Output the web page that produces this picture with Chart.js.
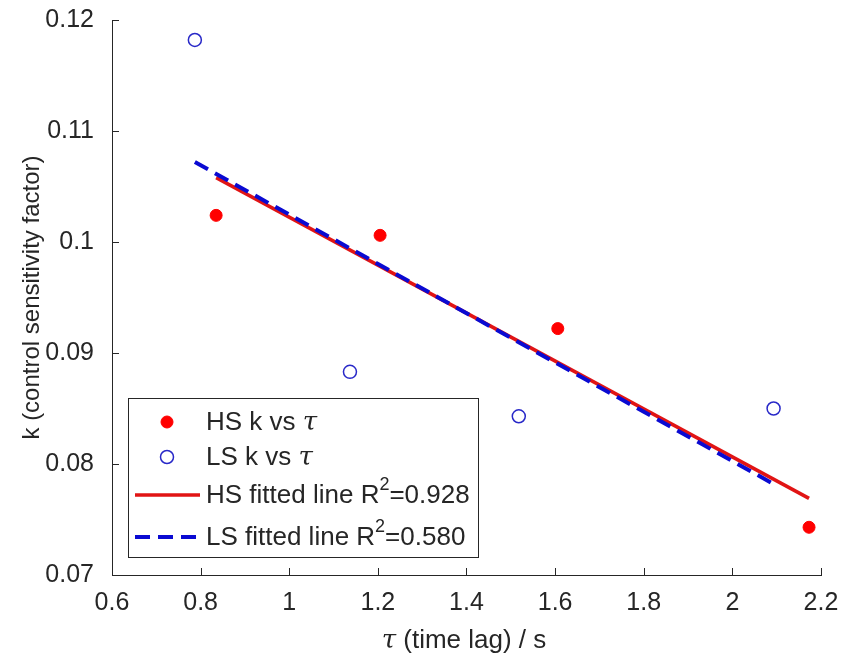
<!DOCTYPE html>
<html>
<head>
<meta charset="utf-8">
<script src="https://cdn.jsdelivr.net/npm/chart.js@4"></script>
<style>
  html, body { margin: 0; padding: 0; background: #fff; }
  #wrap { width: 849px; height: 653px; }
</style>
</head>
<body>
<div id="wrap"><canvas id="scatterChart" width="849" height="653"></canvas></div>
<script>
// data
const hsTau = [0.835, 1.205, 1.606, 2.173];
const hsK = [0.1024, 0.1006, 0.0922, 0.0743];
const lsTau = [0.787, 1.137, 1.518, 2.093];
const lsK = [0.1182, 0.0883, 0.0843, 0.0850];
// fitted line end points
const hsFitTau = [0.835, 2.173];
const hsFitK = [0.1058, 0.0769];
const lsFitTau = [0.787, 2.093];
const lsFitK = [0.1072, 0.0782];

const legendLabels = ['HS k vs τ', 'LS k vs τ', 'HS fitted line R2=0.928', 'LS fitted line R2=0.580'];
const xTicks = [0.6, 0.8, 1, 1.2, 1.4, 1.6, 1.8, 2, 2.2];
const yTicks = [0.07, 0.08, 0.09, 0.1, 0.11, 0.12];

const toPoints = (xs, ys) => xs.map((x, i) => ({ x: x, y: ys[i] }));

const FONT = '"Liberation Sans", Arial, Helvetica, sans-serif';
const AXIS_COLOR = '#262626';

// draw text where "τ" is italic and "R2" gets a superscript 2
function richParts(text) {
    let parts = [];
    if (text.indexOf('R2') >= 0) {
        const i = text.indexOf('R2');
        parts.push({ t: text.slice(0, i + 1) });
        parts.push({ t: '2', sup: true });
        parts.push({ t: text.slice(i + 2) });
    } else {
        text.split(/(τ)/).forEach(s => { if (s) parts.push({ t: s, it: s === 'τ' }); });
    }
    return parts;
}
function setPartFont(ctx, p, size) {
    const sz = p.sup ? Math.round(size * 0.68) : size;
    ctx.font = (p.it ? 'italic ' : '') + sz + 'px ' + (p.it ? '"DejaVu Serif", serif' : FONT);
}
function drawRich(ctx, text, x, y, size, centered) {
    const parts = richParts(text);
    let cx = x;
    if (centered) {
        let w = 0;
        parts.forEach(p => { setPartFont(ctx, p, size); w += ctx.measureText(p.t).width; });
        cx = x - w / 2;
    }
    parts.forEach(p => {
        setPartFont(ctx, p, size);
        ctx.fillText(p.t, cx, p.sup ? y - size * 0.42 : y);
        cx += ctx.measureText(p.t).width;
    });
}

const matlabLook = {
    id: 'matlabLook',
    afterDraw(chart) {
        const ctx = chart.ctx;
        const xs = chart.scales.x, ys = chart.scales.y;
        const area = chart.chartArea;
        ctx.save();
        // inward ticks
        ctx.strokeStyle = AXIS_COLOR;
        ctx.lineWidth = 1;
        ctx.beginPath();
        xTicks.forEach(v => {
            const px = Math.round(xs.getPixelForValue(v)) + 0.5;
            ctx.moveTo(px, area.bottom);
            ctx.lineTo(px, area.bottom - 7);
        });
        yTicks.forEach(v => {
            const py = Math.round(ys.getPixelForValue(v)) + 0.5;
            ctx.moveTo(area.left, py);
            ctx.lineTo(area.left + 7, py);
        });
        ctx.stroke();

        // x axis title with italic tau
        ctx.fillStyle = AXIS_COLOR;
        ctx.textBaseline = 'middle';
        ctx.textAlign = 'left';
        drawRich(ctx, 'τ (time lag) / s', 464, 641, 26, true);

        // legend box
        const bx = 128, by = 398, bw = 350, bh = 159;
        ctx.fillStyle = '#fff';
        ctx.fillRect(bx, by, bw, bh);
        ctx.strokeStyle = AXIS_COLOR;
        ctx.strokeRect(bx + 0.5, by + 0.5, bw, bh);
        const rows = [422, 457, 495, 537];
        chart.data.datasets.forEach((ds, i) => {
            const ry = rows[i];
            if (ds.showLine) {
                ctx.strokeStyle = ds.borderColor;
                ctx.lineWidth = ds.borderWidth;
                ctx.setLineDash(ds.borderDash || []);
                ctx.beginPath();
                ctx.moveTo(135, ry);
                ctx.lineTo(200, ry);
                ctx.stroke();
                ctx.setLineDash([]);
            } else {
                ctx.beginPath();
                ctx.arc(167, ry, ds.pointRadius, 0, Math.PI * 2);
                ctx.fillStyle = ds.pointBackgroundColor;
                ctx.fill();
                ctx.strokeStyle = ds.pointBorderColor;
                ctx.lineWidth = ds.pointBorderWidth;
                ctx.stroke();
            }
            ctx.fillStyle = AXIS_COLOR;
            drawRich(ctx, legendLabels[i], 206, ry + 1, 26, false);
        });
        ctx.restore();
    }
};

const config = {
    type: 'scatter',
    data: {
        datasets: [
            {
                label: legendLabels[0],
                data: toPoints(hsTau, hsK),
                pointRadius: 6,
                pointBackgroundColor: '#ff0000',
                pointBorderColor: '#ff0000',
                pointBorderWidth: 1,
                order: 0
            },
            {
                label: legendLabels[1],
                data: toPoints(lsTau, lsK),
                pointRadius: 6.5,
                pointBackgroundColor: 'rgba(0,0,0,0)',
                pointBorderColor: 'rgb(40, 40, 200)',
                pointBorderWidth: 1.5,
                order: 0
            },
            {
                label: legendLabels[2],
                data: toPoints(hsFitTau, hsFitK),
                showLine: true,
                borderColor: 'rgb(225, 20, 20)',
                borderWidth: 3.5,
                pointRadius: 0,
                order: 2
            },
            {
                label: legendLabels[3],
                data: toPoints(lsFitTau, lsFitK),
                showLine: true,
                borderColor: 'rgb(10, 10, 210)',
                borderWidth: 4,
                borderDash: [15, 8],
                pointRadius: 0,
                order: 1
            }
        ]
    },
    options: {
        responsive: false,
        animation: false,
        layout: { padding: { top: 20, right: 28, left: 0, bottom: 0 } },
        plugins: {
            legend: { display: false },
            tooltip: { enabled: false }
        },
        scales: {
            x: {
                type: 'linear',
                min: 0.6,
                max: 2.2,
                afterBuildTicks: axis => { axis.ticks = xTicks.map(v => ({ value: v })); },
                afterFit: axis => { axis.height = 78; },
                grid: { display: false },
                border: { display: true, color: AXIS_COLOR, width: 1 },
                ticks: {
                    color: AXIS_COLOR,
                    font: { family: FONT, size: 25, lineHeight: 1 },
                    padding: 8,
                    maxRotation: 0,
                    callback: v => String(+v.toFixed(1))
                }
            },
            y: {
                type: 'linear',
                min: 0.07,
                max: 0.12,
                afterBuildTicks: axis => { axis.ticks = yTicks.map(v => ({ value: v })); },
                afterFit: axis => { axis.width = 112; axis.paddingTop = 0; axis.paddingBottom = 0; },
                grid: { display: false },
                border: { display: true, color: AXIS_COLOR, width: 1 },
                ticks: {
                    color: AXIS_COLOR,
                    font: { family: FONT, size: 25, lineHeight: 1 },
                    padding: 10,
                    callback: v => String(+v.toFixed(2))
                },
                title: {
                    display: true,
                    text: 'k (control sensitivity factor)',
                    color: AXIS_COLOR,
                    font: { family: FONT, size: 24 },
                    padding: { top: 18, bottom: 0 }
                }
            }
        }
    },
    plugins: [matlabLook]
};

var ctx = document.getElementById('scatterChart').getContext('2d');
var scatterChart = new Chart(ctx, config);
</script>
</body>
</html>
